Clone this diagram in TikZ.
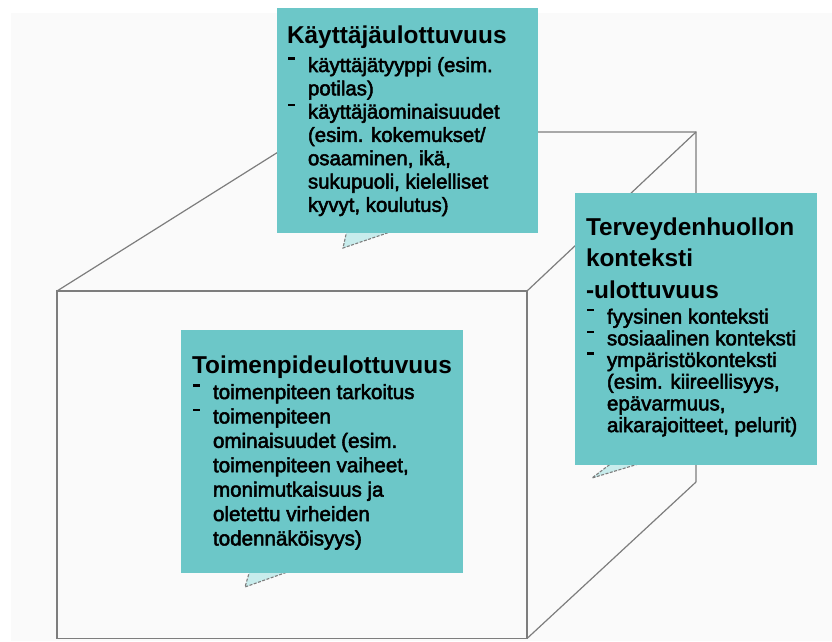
\documentclass[tikz,border=0pt]{standalone}
\usepackage{fontspec}
\setmainfont{Liberation Sans}
\font\bodyA="Liberation Sans:embolden=2.5" at 20.4pt
\font\bodyB="Liberation Sans:embolden=2.5" at 20.5pt
\font\bodyC="Liberation Sans:embolden=2.5" at 20.6pt
\usepackage{array}
\definecolor{teal1}{RGB}{108,199,200}
\definecolor{tailc}{RGB}{200,236,236}
\definecolor{edgec}{RGB}{125,125,125}
\definecolor{bgc}{RGB}{250,250,250}
\newcommand{\dsh}{\hspace*{1pt}\rule[0.6em]{6.5pt}{2.4pt}}
\newcommand{\ttl}{\rmfamily\bfseries\fontsize{24.4}{29}\selectfont}
\begin{document}
\begin{tikzpicture}[x=1pt,y=-1pt,
  cubeline/.style={draw=edgec, line width=1.4pt},
  diag/.style={draw=edgec, line width=1.2pt},
  panel/.style={fill=teal1, draw=none, anchor=north west, inner sep=0pt, outer sep=0pt},
  tailfill/.style={fill=tailc, draw=none},
  tailedge/.style={draw=edgec, line width=1.1pt, dash pattern=on 3pt off 1.5pt},
  txt/.style={inner sep=0pt, outer sep=0pt, anchor=base west, text=black, align=left},
]
\useasboundingbox (0,0) rectangle (832,641);
\fill[white] (0,0) rectangle (832,641);
\fill[bgc] (11,13) rectangle (832,641);

% cube corners
\coordinate (ftl) at (57,291);
\coordinate (ftr) at (527,291);
\coordinate (fbr) at (527,638.5);
\coordinate (fbl) at (57,638.5);
\coordinate (btl) at (310,132);
\coordinate (btr) at (696,132);
\coordinate (bbr) at (696,482);

\draw[cubeline] (ftl) -- (ftr) -- (fbr) -- (fbl) -- cycle;
\draw[diag] (ftl) -- (btl) -- (btr) -- (bbr);
\draw[diag] (ftr) -- (btr);
\draw[diag] (fbr) -- (bbr);

% callout tails
\coordinate (a1) at (347,230); \coordinate (a2) at (343,248); \coordinate (a3) at (396,230);
\coordinate (c1) at (250,570); \coordinate (c2) at (245,587); \coordinate (c3) at (293,570);
\coordinate (b1) at (613,462); \coordinate (b2) at (592,478); \coordinate (b3) at (645,462);
\fill[tailfill] (a1) -- (a2) -- (a3) -- cycle;
\fill[tailfill] (c1) -- (c2) -- (c3) -- cycle;
\fill[tailfill] (b1) -- (b2) -- (b3) -- cycle;
\draw[tailedge] (a1) -- (a2) -- (a3);
\draw[tailedge] (c1) -- (c2) -- (c3);
\draw[tailedge] (b1) -- (b2) -- (b3);

% panels
\node[panel, minimum width=261pt, minimum height=225pt] (p1) at (277,8) {};
\node[panel, minimum width=242pt, minimum height=272pt] (p2) at (575,193) {};
\node[panel, minimum width=282pt, minimum height=243pt] (p3) at (181,330) {};

% texts
\node[txt, font=\fontsize{20.4}{23.3}\selectfont\bodyA] (t1) at (287,43) {%
\begin{tabular}[t]{@{}p{21pt}@{}l@{}}
\multicolumn{2}{@{}l@{}}{\ttl Käyttäjäulottuvuus}\\[5.7pt]
\dsh & käyttäjätyyppi (esim.\\
 & potilas)\\
\dsh & käyttäjäominaisuudet\\
 & (esim. kokemukset/\\
 & osaaminen, ikä,\\
 & sukupuoli, kielelliset\\
 & kyvyt, koulutus)
\end{tabular}};

\node[txt, font=\fontsize{20.5}{21.7}\selectfont\bodyB] (t2) at (586,235) {%
\begin{tabular}[t]{@{}p{21pt}@{}l@{}}
\multicolumn{2}{@{}l@{}}{\ttl Terveydenhuollon}\\[7.6pt]
\multicolumn{2}{@{}l@{}}{\ttl konteksti}\\[7.6pt]
\multicolumn{2}{@{}l@{}}{\ttl -ulottuvuus}\\[3.3pt]
\dsh & fyysinen konteksti\\
\dsh & sosiaalinen konteksti\\
\dsh & ympäristökonteksti\\
 & (esim. kiireellisyys,\\
 & epävarmuus,\\
 & aikarajoitteet, pelurit)
\end{tabular}};

\node[txt, font=\fontsize{20.6}{24.4}\selectfont\bodyC] (t3) at (192,373) {%
\begin{tabular}[t]{@{}p{21pt}@{}l@{}}
\multicolumn{2}{@{}l@{}}{\ttl Toimenpideulottuvuus}\\[1.6pt]
\dsh & toimenpiteen tarkoitus\\
\dsh & toimenpiteen\\
 & ominaisuudet (esim.\\
 & toimenpiteen vaiheet,\\
 & monimutkaisuus ja\\
 & oletettu virheiden\\
 & todennäköisyys)
\end{tabular}};
\end{tikzpicture}
\end{document}
